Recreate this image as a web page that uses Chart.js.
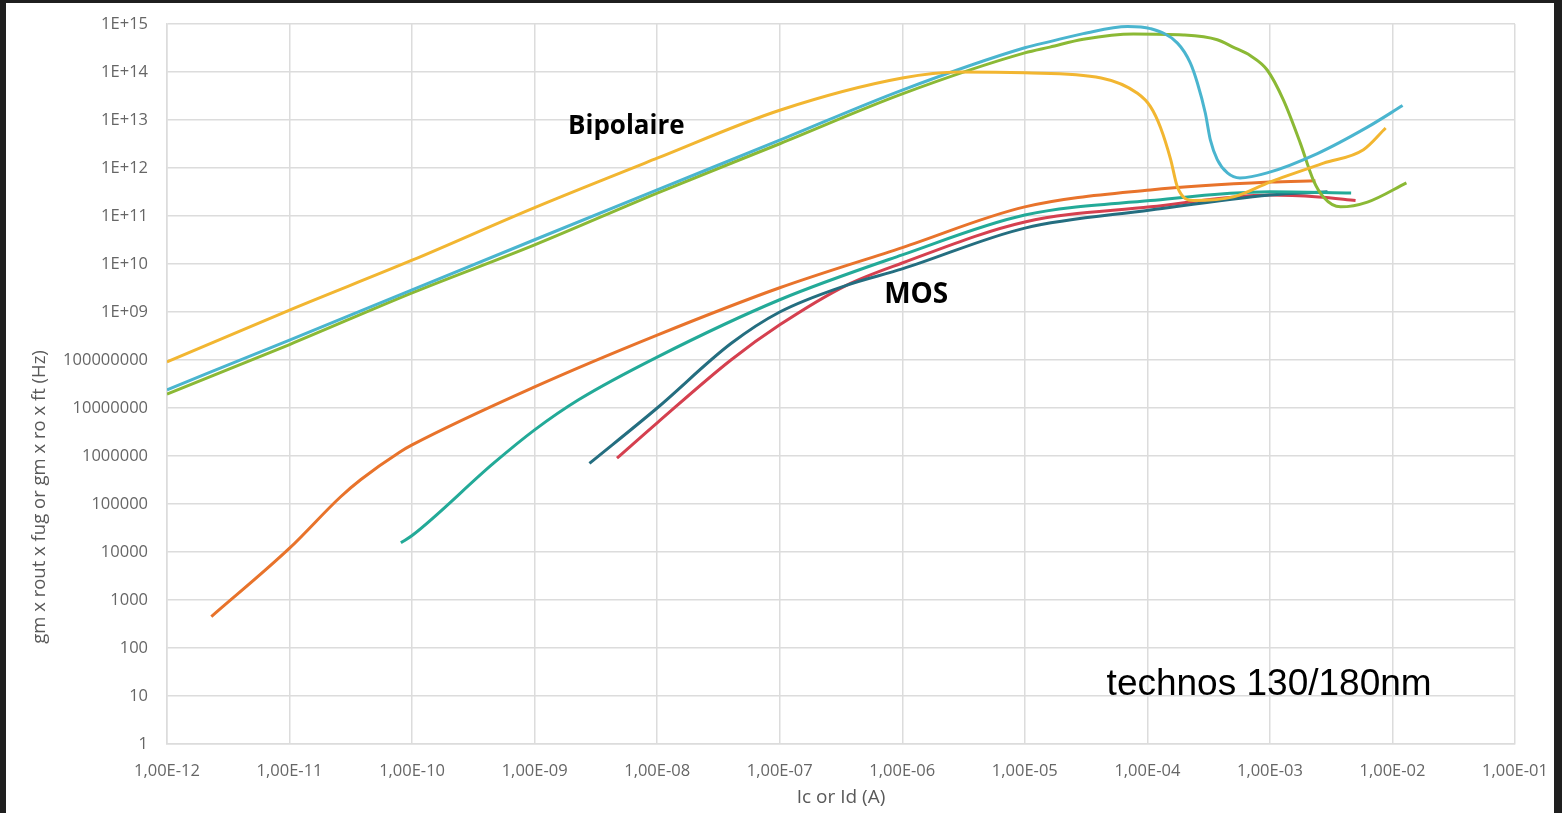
<!DOCTYPE html>
<html>
<head>
<meta charset="utf-8">
<script src="https://cdn.jsdelivr.net/npm/chart.js@4"></script>
<style>
  html, body { margin: 0; padding: 0; background: #1f1f1f; width: 1562px; height: 813px; overflow: hidden; }
  #frame { position: absolute; left: 6px; top: 3px; width: 1548px; height: 810px; background: #fff; }
</style>
</head>
<body>
<div id="frame"><canvas id="chart" width="1548" height="810"></canvas></div>
<script>
// tick positions (decades)
const xDecades = [-12, -11, -10, -9, -8, -7, -6, -5, -4, -3, -2, -1]
const yDecades = [0, 1, 2, 3, 4, 5, 6, 7, 8, 9, 10, 11, 12, 13, 14, 15]

// Bipolaire curves
const yellowX = [1e-12, 1e-11, 1e-10, 1e-9, 1e-8, 1e-7, 1e-6, 2.95e-6, 1e-5, 4.2e-5, 8.3e-5, 1.06e-4, 1.28e-4, 1.55e-4, 1.76e-4, 2.38e-4, 5.04e-4, 1e-3, 2.74e-3, 5.8e-3, 8.8e-3]
const yellowY = [9.1e7, 1.1e9, 1.2e10, 1.5e11, 1.6e12, 1.6e13, 7.5e13, 1.0e14, 9.6e13, 7.5e13, 3.6e13, 1.9e13, 7e12, 1.5e12, 4e11, 2.1e11, 2.5e11, 5.1e11, 1.26e12, 2.4e12, 6.8e12]

const blueX = [1e-12, 1e-11, 1e-10, 1e-9, 1e-8, 1e-7, 1e-6, 1e-5, 1.6e-5, 3.0e-5, 6.9e-5, 1.06e-4, 1.76e-4, 2.24e-4, 2.56e-4, 2.97e-4, 3.27e-4, 3.72e-4, 4.5e-4, 5.7e-4, 9.5e-4, 2.44e-3, 6.25e-3, 1.21e-2]
const blueY = [2.4e7, 2.6e8, 2.9e9, 3.2e10, 3.5e11, 3.8e12, 4.2e13, 3.2e14, 4.3e14, 6.3e14, 8.9e14, 8.0e14, 4.0e14, 1.55e14, 5.9e13, 1.4e13, 3.8e12, 1.5e12, 7.9e11, 6.2e11, 7.9e11, 2.0e12, 7.1e12, 2.0e13]

const greenX = [1e-12, 1e-11, 1e-10, 1e-9, 1e-8, 1e-7, 1e-6, 1e-5, 1.6e-5, 3.0e-5, 7.7e-5, 1.97e-4, 3.72e-4, 5.0e-4, 6.9e-4, 9.5e-4, 1.29e-3, 1.77e-3, 2.26e-3, 2.73e-3, 3.77e-3, 6.25e-3, 1.3e-2]
const greenY = [1.95e7, 2.1e8, 2.5e9, 2.5e10, 3.0e11, 3.2e12, 3.5e13, 2.5e14, 3.3e14, 4.8e14, 6.2e14, 5.9e14, 4.7e14, 3.3e14, 2.2e14, 1.1e14, 2.6e13, 3.3e12, 5.6e11, 2.5e11, 1.55e11, 1.95e11, 4.9e11]

// MOS curves
const orangeX = [2.3e-12, 1e-11, 2.6e-11, 3.8e-11, 7.9e-11, 1e-10, 1e-9, 1e-8, 1e-7, 1e-6, 1e-5, 1.06e-4, 1e-3, 2.35e-3]
const orangeY = [450, 1.2e4, 1.4e5, 3.2e5, 1.2e6, 1.7e6, 2.75e7, 3.3e8, 3.2e9, 2.2e10, 1.55e11, 3.5e11, 5.1e11, 5.4e11]

const tealX = [8.1e-11, 1e-10, 4.6e-10, 1e-9, 2.3e-9, 1e-8, 1e-7, 1e-6, 1e-5, 1.06e-4, 1e-3, 4.6e-3]
const tealY = [1.55e4, 2.2e4, 7e5, 3.5e6, 1.5e7, 1.15e8, 1.8e9, 1.55e10, 1.05e11, 2.1e11, 3.2e11, 3.0e11]

const darkTealX = [2.8e-9, 1e-8, 4e-8, 1e-7, 3.5e-7, 1e-6, 1e-5, 1.06e-4, 1e-3, 2.95e-3]
const darkTealY = [7e5, 1e7, 2.2e8, 1e9, 3.6e9, 7.9e9, 5.6e10, 1.33e11, 2.75e11, 3.2e11]

const redX = [4.7e-9, 1e-8, 4e-8, 1e-7, 3.5e-7, 1e-6, 1e-5, 1.06e-4, 1e-3, 2.5e-3, 5e-3]
const redY = [9e5, 4.9e6, 1e8, 5.4e8, 3.6e9, 1.05e10, 7.5e10, 1.55e11, 2.75e11, 2.5e11, 2.1e11]

const labels = [
    { text: 'Bipolaire', x: 5.6e-9, y: 7.2e12, font: 'bold 26px "Open Sans"', align: 'center' },
    { text: 'MOS', x: 1.3e-6, y: 2.25e9, font: 'bold 28px "Open Sans"', align: 'center' },
    { text: 'technos 130/180nm', x: 4.65e-5, y: 17, font: '37px "Liberation Sans"', align: 'left' }
]
const yTitle = 'gm x rout x fug or gm x ro x ft (Hz)'

const pairs = (xs, ys) => xs.map((x, i) => ({ x: x, y: ys[i] }))

const line = (data, color) => ({
    data: data,
    borderColor: color,
    borderWidth: 3,
    pointRadius: 0,
    fill: false,
    cubicInterpolationMode: 'monotone'
})

const textPlugin = {
    id: 'texts',
    afterDraw(chart) {
        const ctx = chart.ctx
        const xs = chart.scales.x
        const ys = chart.scales.y
        ctx.save()
        ctx.fillStyle = '#000'
        ctx.textBaseline = 'middle'
        labels.forEach(l => {
            ctx.font = l.font
            ctx.textAlign = l.align
            ctx.fillText(l.text, xs.getPixelForValue(l.x), ys.getPixelForValue(l.y))
        })
        // y axis title, sits a bit below the middle of the axis
        ctx.translate(34, 348 + 146)
        ctx.rotate(-Math.PI / 2)
        ctx.font = '18.5px "Open Sans"'
        ctx.fillStyle = '#595959'
        ctx.textAlign = 'center'
        ctx.fillText(yTitle, 0, 0)
        ctx.restore()
    }
}

const pad2 = n => (n < 10 ? '0' : '') + n
const noPad = s => { s.paddingLeft = 0; s.paddingRight = 0; s.paddingTop = 0; s.paddingBottom = 0 }

const ctx = document.querySelector('#chart').getContext('2d')
const chart = new Chart(ctx, {
    type: 'line',
    data: {
        datasets: [
            line(pairs(yellowX, yellowY), '#f2b631'),
            line(pairs(blueX, blueY), '#4ab5cf'),
            line(pairs(greenX, greenY), '#8bb935'),
            line(pairs(orangeX, orangeY), '#e8732b'),
            line(pairs(tealX, tealY), '#23aa98'),
            line(pairs(darkTealX, darkTealY), '#246e80'),
            line(pairs(redX, redY), '#d5404f')
        ]
    },
    options: {
        responsive: false,
        animation: false,
        layout: { padding: { top: 21, right: 39, left: 0, bottom: 0 } },
        plugins: {
            legend: { display: false },
            tooltip: { enabled: false }
        },
        scales: {
            x: {
                type: 'logarithmic',
                min: 1e-12,
                max: 1e-1,
                afterBuildTicks: s => { s.ticks = xDecades.map(d => ({ value: Math.pow(10, d) })) },
                afterFit: s => { s.height = 69; noPad(s) },
                grid: { color: '#dcdcdc', lineWidth: 1.5, drawTicks: false },
                border: { color: '#dcdcdc', width: 1.5 },
                ticks: {
                    autoSkip: false,
                    maxRotation: 0,
                    padding: 17,
                    color: '#666',
                    font: { family: 'Open Sans', size: 16.5 },
                    callback: (v, i) => '1,00E-' + pad2(-xDecades[i])
                },
                title: {
                    display: true,
                    text: 'Ic or Id (A)',
                    color: '#595959',
                    font: { family: 'Open Sans', size: 19 },
                    padding: { top: 0, bottom: 4 }
                }
            },
            y: {
                type: 'logarithmic',
                min: 1,
                max: 1e15,
                afterBuildTicks: s => { s.ticks = yDecades.map(d => ({ value: Math.pow(10, d) })) },
                afterFit: s => { s.width = 161; noPad(s) },
                grid: { color: '#dcdcdc', lineWidth: 1.5, drawTicks: false },
                border: { color: '#dcdcdc', width: 1.5 },
                ticks: {
                    autoSkip: false,
                    padding: 19,
                    color: '#666',
                    font: { family: 'Open Sans', size: 16.5 },
                    callback: (v, i) => {
                        const d = yDecades[i]
                        return d >= 9 ? '1E+' + pad2(d) : String(Math.pow(10, d))
                    }
                }
            }
        }
    },
    plugins: [textPlugin]
})
</script>
</body>
</html>
